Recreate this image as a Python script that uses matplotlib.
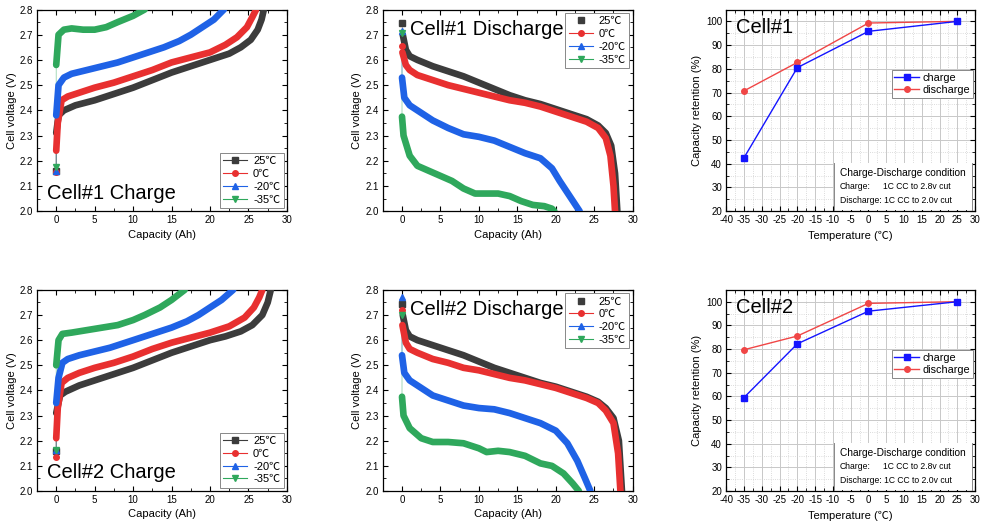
import numpy as np
import matplotlib
matplotlib.use("Agg")
import matplotlib.pyplot as plt
from matplotlib.lines import Line2D
from matplotlib.ticker import MultipleLocator
from matplotlib.patches import Rectangle

plt.rcParams['font.family'] = ['Liberation Sans', 'Noto Sans CJK SC', 'DejaVu Sans']
plt.rcParams['axes.unicode_minus'] = False

temps = ['25℃', '0℃', '-20℃', '-35℃']
colors = ['#3c3c3c', '#e83030', '#1f62e6', '#2fa85c']
markers = ['s', 'o', '^', 'v']

# --- Cell#1 charge (capacity Ah, voltage V); first point = initial reading
c1_chg_cap = {
    '25℃': [0, 0, 0.3, 1, 2.5, 5, 7.5, 10, 12.5, 15, 17.5, 20, 22.5, 24, 25.3, 26.2, 26.7, 27],
    '0℃': [0, 0, 0.2, 0.7, 1.5, 3, 5, 7.5, 10, 12.5, 15, 17.5, 20, 22, 23.5, 24.8, 25.5, 26],
    '-20℃': [0, 0, 0.3, 1, 2, 4, 6, 8, 10, 12, 14, 16, 17.5, 19, 20.5, 21.8],
    '-35℃': [0, 0, 0.3, 1, 2, 3.5, 5, 6.5, 8, 10, 11.5],
}
c1_chg_v = {
    '25℃': [2.16, 2.31, 2.38, 2.40, 2.42, 2.44, 2.465, 2.49, 2.52, 2.55, 2.575, 2.60, 2.625, 2.65, 2.68, 2.72, 2.76, 2.80],
    '0℃': [2.155, 2.24, 2.35, 2.44, 2.455, 2.47, 2.49, 2.51, 2.535, 2.56, 2.59, 2.61, 2.63, 2.66, 2.69, 2.73, 2.77, 2.80],
    '-20℃': [2.16, 2.38, 2.50, 2.53, 2.545, 2.56, 2.575, 2.59, 2.61, 2.63, 2.65, 2.675, 2.70, 2.73, 2.76, 2.80],
    '-35℃': [2.175, 2.58, 2.70, 2.72, 2.725, 2.72, 2.72, 2.73, 2.75, 2.775, 2.80],
}

# --- Cell#1 discharge
c1_dis_cap = {
    '25℃': [0, 0.1, 0.5, 1, 2, 4, 6, 8, 10, 12, 14, 16, 18, 20, 22, 24, 25.5, 26.5, 27.2, 27.7, 28.0],
    '0℃': [0, 0.05, 0.5, 1, 2, 4, 6, 8, 10, 12, 14, 16, 18, 20, 22, 24, 25.5, 26.5, 27.1, 27.5, 27.7],
    '-20℃': [0, 0, 0.3, 1, 2.5, 4, 6, 8, 10, 12, 14, 16, 18, 19.5, 20.5, 21.8, 23.1],
    '-35℃': [0, 0, 0.2, 1, 2, 3.5, 5, 6.5, 8, 9.5, 11, 12.5, 14, 15.5, 17, 18.5, 19.5, 19.8],
}
c1_dis_v = {
    '25℃': [2.745, 2.70, 2.64, 2.615, 2.60, 2.575, 2.555, 2.535, 2.51, 2.485, 2.46, 2.44, 2.425, 2.405, 2.385, 2.365, 2.34, 2.31, 2.26, 2.15, 2.0],
    '0℃': [2.655, 2.63, 2.58, 2.56, 2.54, 2.52, 2.50, 2.485, 2.47, 2.455, 2.44, 2.43, 2.415, 2.395, 2.375, 2.355, 2.33, 2.29, 2.22, 2.10, 2.0],
    '-20℃': [2.715, 2.53, 2.45, 2.42, 2.39, 2.36, 2.33, 2.305, 2.295, 2.28, 2.255, 2.23, 2.21, 2.17, 2.12, 2.06, 2.0],
    '-35℃': [2.705, 2.375, 2.30, 2.22, 2.18, 2.16, 2.14, 2.12, 2.09, 2.07, 2.07, 2.07, 2.06, 2.04, 2.025, 2.02, 2.01, 2.0],
}

# --- Cell#2 charge
c2_chg_cap = {
    '25℃': [0, 0, 0.5, 1.2, 3, 5, 7.5, 10, 12.5, 15, 17.5, 20, 22, 24, 25.5, 26.8, 27.5, 27.9],
    '0℃': [0, 0, 0.2, 0.7, 1.5, 3, 5, 7.5, 10, 12.5, 15, 17.5, 20, 22.5, 24.5, 25.7, 26.4, 26.8],
    '-20℃': [0, 0, 0.3, 0.8, 1.5, 3, 5, 7, 9, 11, 13, 15, 17, 18.5, 20, 21.5, 23],
    '-35℃': [0, 0, 0.3, 0.8, 2, 4, 6, 8, 10, 11.5, 13.5, 15, 16.7],
}
c2_chg_v = {
    '25℃': [2.16, 2.31, 2.38, 2.395, 2.42, 2.44, 2.465, 2.49, 2.52, 2.55, 2.575, 2.60, 2.615, 2.635, 2.66, 2.70, 2.75, 2.80],
    '0℃': [2.135, 2.21, 2.33, 2.43, 2.45, 2.47, 2.49, 2.51, 2.535, 2.565, 2.59, 2.61, 2.63, 2.655, 2.69, 2.73, 2.77, 2.80],
    '-20℃': [2.165, 2.35, 2.45, 2.51, 2.525, 2.54, 2.555, 2.57, 2.59, 2.61, 2.63, 2.65, 2.675, 2.70, 2.73, 2.76, 2.80],
    '-35℃': [2.165, 2.50, 2.60, 2.625, 2.63, 2.64, 2.65, 2.66, 2.68, 2.70, 2.73, 2.76, 2.80],
}

# --- Cell#2 discharge
c2_dis_cap = {
    '25℃': [0, 0.1, 0.5, 1, 2, 4, 6, 8, 10, 12, 14, 16, 18, 20, 22, 24, 25.5, 26.5, 27.5, 28.2, 28.6],
    '0℃': [0, 0.05, 0.5, 1, 2, 4, 6, 8, 10, 12, 14, 16, 18, 20, 22, 24, 25.5, 26.5, 27.5, 28.1, 28.4],
    '-20℃': [0, 0, 0.3, 1, 2.5, 4, 6, 8, 10, 12, 14, 16, 18, 20, 21.5, 22.8, 23.8, 24.5],
    '-35℃': [0, 0, 0.2, 1, 2.5, 4, 6, 8, 10, 11, 12.5, 14, 16, 18, 19.5, 21, 22.2, 23],
}
c2_dis_v = {
    '25℃': [2.745, 2.70, 2.64, 2.615, 2.60, 2.58, 2.56, 2.54, 2.515, 2.49, 2.47, 2.45, 2.43, 2.415, 2.395, 2.375, 2.355, 2.33, 2.29, 2.20, 2.0],
    '0℃': [2.72, 2.66, 2.59, 2.565, 2.55, 2.525, 2.51, 2.49, 2.48, 2.465, 2.45, 2.44, 2.425, 2.41, 2.39, 2.37, 2.35, 2.32, 2.27, 2.15, 2.0],
    '-20℃': [2.77, 2.54, 2.47, 2.44, 2.41, 2.38, 2.36, 2.34, 2.33, 2.325, 2.31, 2.29, 2.27, 2.24, 2.19, 2.12, 2.05, 2.0],
    '-35℃': [2.70, 2.375, 2.30, 2.25, 2.21, 2.195, 2.195, 2.19, 2.17, 2.155, 2.16, 2.155, 2.14, 2.11, 2.10, 2.07, 2.03, 2.0],
}

# --- capacity retention (%)
ret_temp = [-35, -20, 0, 25]
c1_ret_chg = [42.5, 80.5, 95.8, 100]
c1_ret_dis = [70.7, 82.7, 99.3, 100]
c2_ret_chg = [59.5, 82.2, 96.0, 100]
c2_ret_dis = [79.7, 85.5, 99.3, 100]

TICK_FS = 7
LABEL_FS = 8


def style_axes(ax):
    ax.tick_params(which='both', direction='in', top=True, right=True, labelsize=TICK_FS, pad=3)
    ax.tick_params(which='major', length=3.5, width=0.8)
    ax.tick_params(which='minor', length=2, width=0.6)
    for s in ax.spines.values():
        s.set_linewidth(0.9)


def volt_panel(ax, caps, volts, title, discharge):
    for t, c, m in zip(temps, colors, markers):
        x, y = caps[t], volts[t]
        ax.plot(x, y, color=c, lw=0.6, alpha=0.5, zorder=2)
        ax.plot(x[1:], y[1:], color=c, lw=4.8, solid_capstyle='round', solid_joinstyle='round', zorder=3)
        ax.plot(x[0], y[0], marker=m, color=c, ms=4, ls='none', zorder=4)
    ax.set_xlim(-2.5, 30)
    ax.set_ylim(2.0, 2.8)
    ax.xaxis.set_major_locator(MultipleLocator(5))
    ax.xaxis.set_minor_locator(MultipleLocator(2.5))
    ax.yaxis.set_major_locator(MultipleLocator(0.1))
    ax.yaxis.set_minor_locator(MultipleLocator(0.05))
    style_axes(ax)
    ax.set_xlabel('Capacity (Ah)', fontsize=LABEL_FS, labelpad=3)
    ax.set_ylabel('Cell voltage (V)', fontsize=LABEL_FS, labelpad=2)
    handles = []
    for i, (t, c, m) in enumerate(zip(temps, colors, markers)):
        ls = 'none' if (discharge and i == 0) else '-'
        handles.append(Line2D([], [], color=c, marker=m, ms=4, lw=0.8, ls=ls))
    if discharge:
        ax.text(0.11, 0.9, title, transform=ax.transAxes, fontsize=14.5, va='center', ha='left')
        leg = ax.legend(handles, temps, loc='upper right', fontsize=8, handlelength=2.2,
                        borderaxespad=0.3, labelspacing=0.25, handletextpad=0.5,
                        fancybox=False, framealpha=1, borderpad=0.3)
    else:
        ax.text(0.04, 0.09, title, transform=ax.transAxes, fontsize=14.5, va='center', ha='left')
        leg = ax.legend(handles, temps, loc='lower right', fontsize=8, handlelength=2.2,
                        borderaxespad=0.3, labelspacing=0.25, handletextpad=0.5,
                        fancybox=False, framealpha=1, borderpad=0.3)
    leg.get_frame().set_edgecolor('#888888')
    leg.get_frame().set_linewidth(0.7)


def ret_panel(ax, chg, dis, title):
    ax.plot(ret_temp, chg, color='#1414ff', marker='s', ms=4, lw=1, label='charge', zorder=4)
    ax.plot(ret_temp, dis, color='#f04646', marker='o', ms=4, lw=1, label='discharge', zorder=3)
    ax.set_xlim(-40, 30)
    ax.set_ylim(20, 105)
    ax.xaxis.set_major_locator(MultipleLocator(5))
    ax.xaxis.set_minor_locator(MultipleLocator(2.5))
    ax.yaxis.set_major_locator(MultipleLocator(10))
    ax.yaxis.set_minor_locator(MultipleLocator(5))
    ax.grid(which='major', color='#c8c8c8', lw=0.7)
    ax.grid(which='minor', color='#d0d0d0', lw=0.6, ls=':')
    ax.set_axisbelow(True)
    style_axes(ax)
    ax.set_xlabel('Temperature (℃)', fontsize=LABEL_FS, labelpad=4)
    ax.set_ylabel('Capacity retention (%)', fontsize=LABEL_FS, labelpad=3)
    ax.text(0.04, 0.91, title, transform=ax.transAxes, fontsize=14.5, va='center', ha='left')
    leg = ax.legend(loc='upper left', bbox_to_anchor=(0.665, 0.70), fontsize=7.8, handlelength=2.3,
                    labelspacing=0.2, handletextpad=0.3, fancybox=False, framealpha=1,
                    borderpad=0.25, borderaxespad=0)
    leg.get_frame().set_edgecolor('#888888')
    leg.get_frame().set_linewidth(0.7)
    # condition box
    ax.add_patch(Rectangle((-9.6, 20.3), 38.7, 20.2, facecolor='white', edgecolor='none', zorder=2))
    ax.plot([-9.6, -9.6], [20, 40.5], color='#888888', lw=0.7, zorder=3)
    ax.plot([29.1, 29.1], [20, 40.5], color='#888888', lw=0.7, zorder=3)
    ax.text(-8, 36.2, 'Charge-Discharge condition', fontsize=7.3, va='center', ha='left', zorder=5)
    ax.text(-8, 30.5, 'Charge:', fontsize=6.2, va='center', ha='left', zorder=5)
    ax.text(4.1, 30.5, '1C CC to 2.8v cut', fontsize=6.2, va='center', ha='left', zorder=5)
    ax.text(-8, 24.6, 'Discharge: 1C CC to 2.0v cut', fontsize=6.2, va='center', ha='left', zorder=5)


fig = plt.figure(figsize=(9.84, 5.28), dpi=100)
ax1 = fig.add_axes([0.0376, 0.600, 0.254, 0.382])
ax2 = fig.add_axes([0.389, 0.600, 0.254, 0.382])
ax3 = fig.add_axes([0.738, 0.600, 0.253, 0.382])
ax4 = fig.add_axes([0.0376, 0.070, 0.254, 0.381])
ax5 = fig.add_axes([0.389, 0.070, 0.254, 0.381])
ax6 = fig.add_axes([0.738, 0.070, 0.253, 0.381])

volt_panel(ax1, c1_chg_cap, c1_chg_v, 'Cell#1 Charge', False)
volt_panel(ax2, c1_dis_cap, c1_dis_v, 'Cell#1 Discharge', True)
ret_panel(ax3, c1_ret_chg, c1_ret_dis, 'Cell#1')
volt_panel(ax4, c2_chg_cap, c2_chg_v, 'Cell#2 Charge', False)
volt_panel(ax5, c2_dis_cap, c2_dis_v, 'Cell#2 Discharge', True)
ret_panel(ax6, c2_ret_chg, c2_ret_dis, 'Cell#2')

fig.savefig('out.png', dpi=100)
